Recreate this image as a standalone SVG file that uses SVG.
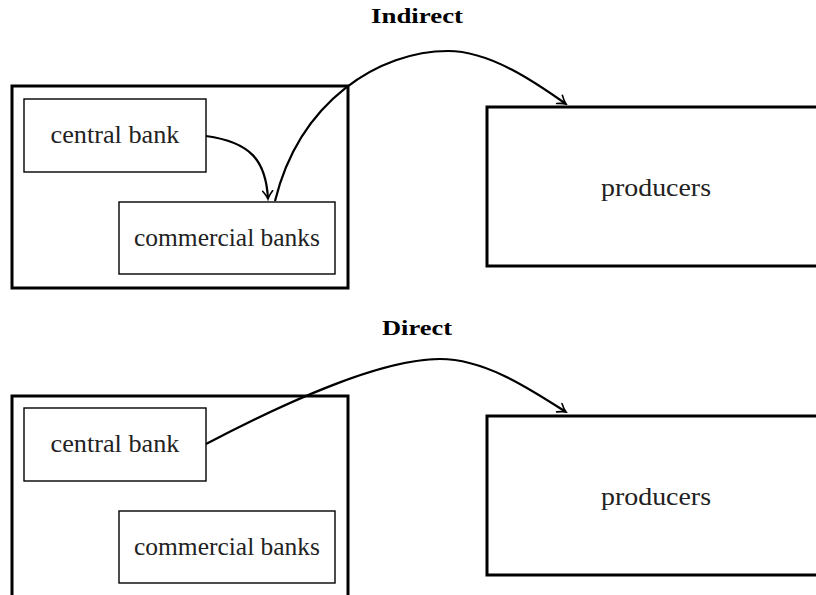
<svg xmlns="http://www.w3.org/2000/svg" width="816" height="595" viewBox="0 0 816 595">
<style>
.outer{fill:none;stroke:#000;stroke-width:3}
.inner{fill:#fff;stroke:#000;stroke-width:1.4}
.lbl{font-family:"Liberation Serif",serif;font-size:25px;fill:#222;text-anchor:middle}
.ttl{font-family:"Liberation Serif",serif;font-size:22px;font-weight:bold;fill:#000;text-anchor:middle}
.edge{fill:none;stroke:#000;stroke-width:2.2}
</style>
<defs>
<marker id="arr" viewBox="-10 -6 12 12" refX="0" refY="0" markerWidth="12" markerHeight="12" markerUnits="userSpaceOnUse" orient="auto">
<path d="M-8,-5 Q-3,-1 0,0 Q-3,1 -8,5" fill="none" stroke="#000" stroke-width="1.6" stroke-linecap="round"/>
</marker>
</defs>
<rect width="816" height="595" fill="#fff"/>
<text class="ttl" x="417" y="23" textLength="92" lengthAdjust="spacingAndGlyphs">Indirect</text>
<text class="ttl" x="417" y="335" textLength="70" lengthAdjust="spacingAndGlyphs">Direct</text>
<g id="outer-indirect"><rect class="outer" x="12" y="86" width="336" height="202"/></g>
<g id="central-bank-indirect"><rect class="inner" x="24" y="99" width="182" height="73"/><text class="lbl" x="115" y="143" textLength="129" lengthAdjust="spacingAndGlyphs">central bank</text></g>
<g id="commercial-banks-indirect"><rect class="inner" x="119" y="202" width="216" height="72"/><text class="lbl" x="227" y="246" textLength="186" lengthAdjust="spacingAndGlyphs">commercial banks</text></g>
<g id="producers-indirect"><rect class="outer" x="487" y="107" width="340" height="159"/><text class="lbl" x="656" y="196" textLength="110" lengthAdjust="spacingAndGlyphs">producers</text></g>
<g id="outer-direct"><rect class="outer" x="12" y="396" width="336" height="210"/></g>
<g id="central-bank-direct"><rect class="inner" x="24" y="408" width="182" height="73"/><text class="lbl" x="115" y="452" textLength="129" lengthAdjust="spacingAndGlyphs">central bank</text></g>
<g id="commercial-banks-direct"><rect class="inner" x="119" y="511" width="216" height="72"/><text class="lbl" x="227" y="555" textLength="186" lengthAdjust="spacingAndGlyphs">commercial banks</text></g>
<g id="producers-direct"><rect class="outer" x="487" y="416" width="340" height="159"/><text class="lbl" x="656" y="505" textLength="110" lengthAdjust="spacingAndGlyphs">producers</text></g>
<g id="connectors">
<path class="edge" d="M206,136 C250,142 266,160 268,199" marker-end="url(#arr)"/>
<path class="edge" d="M275,201 C300,100 380,51 448,51 C490,51 535,82 566,104" marker-end="url(#arr)"/>
<path class="edge" d="M206,444 C280,405 380,359 440,359 C485,359 530,389 566,412" marker-end="url(#arr)"/>
</g>
</svg>
